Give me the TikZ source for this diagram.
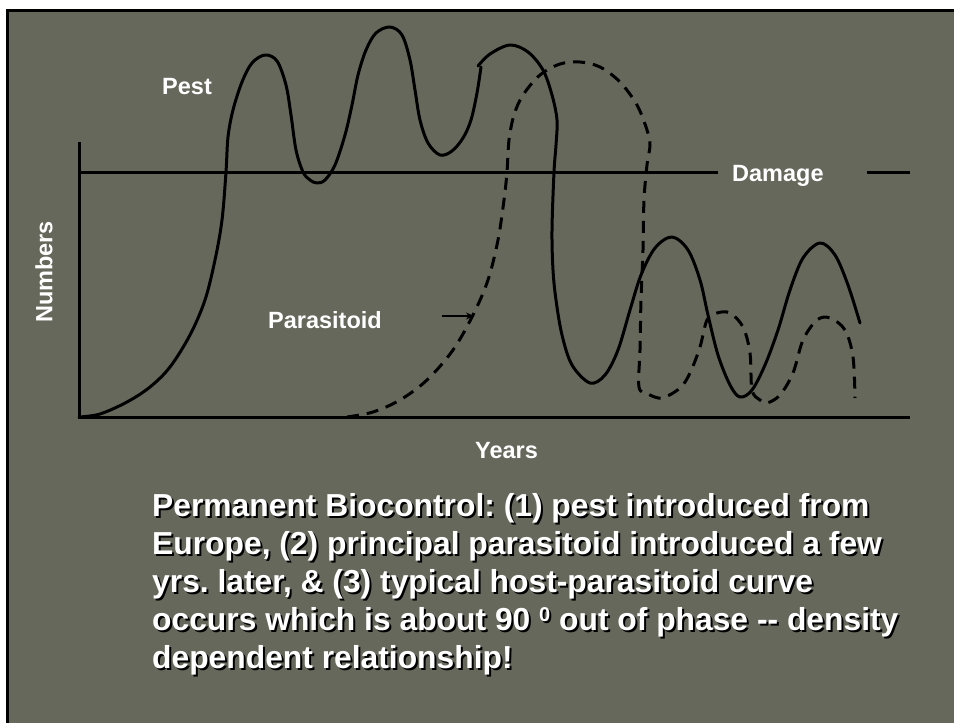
\documentclass[tikz,border=0pt]{standalone}
\usepackage{fontspec}
\setmainfont{Liberation Sans}
\usetikzlibrary{arrows.meta}
\definecolor{slidebg}{RGB}{103,104,92}
\frenchspacing
\tikzset{
  curve/.style={line width=3pt, line cap=round, line join=round},
  dashcurve/.style={line width=3pt, dash pattern=on 12pt off 8pt},
  axis/.style={line width=3pt},
  lbl/.style={text=white, font=\fontsize{23.5}{28}\selectfont\bfseries, inner sep=0pt, anchor=base west},
  para/.style={font=\fontsize{31.8}{38}\selectfont\bfseries, inner sep=0pt, anchor=base west, text=white},
}
\newcommand{\shadowtext}[1]{%
  \makebox[0pt][l]{\hspace{2pt}\raisebox{-2pt}{\color{black}#1}}#1}
\begin{document}
\begin{tikzpicture}[x=1pt,y=-1pt]
\useasboundingbox (0,0) rectangle (954,723);
\fill[white] (0,0) rectangle (954,723);
\fill[black] (6,9) rectangle (954,723);
\fill[slidebg] (9,12) rectangle (954,723);

% axes
\coordinate (yt) at (79,142);
\coordinate (o) at (79,417);
\coordinate (xe) at (910,417);
\draw[axis] (yt) -- (o) -- (xe);
% damage line
\coordinate (d0) at (79,172);
\coordinate (d1) at (718,172);
\coordinate (d2) at (867,172);
\coordinate (d3) at (910,172);
\draw[axis] (d0) -- (d1);
\draw[axis] (d2) -- (d3);

% pest curve
\draw[curve] plot[smooth, tension=0.55] coordinates {
(79,417) (100,414) (127,402) (150,387) (170,367) (190,335) (205,300) (215,260)
(222,220) (226,172) (228,137) (233,110) (242,82) (252,63) (265,55) (277,61)
(286,85) (291,115) (296,150) (303,172) (310,180) (317,183) (325,180) (335,165)
(345,135) (352,105) (358,75) (366,50) (376,33) (390,27) (402,35) (410,60)
(415,90) (420,120) (428,143) (440,155) (452,151) (463,138) (471,120) (477,93) (481,67)};
\draw[curve] plot[smooth, tension=0.55] coordinates {
(478,66) (490,54) (510,45) (528,52) (543,70) (552,95) (557,120) (556,145)
(554,172) (552,230) (553,270) (556,300) (562,335) (572,365) (590,383) (605,375)
(618,350) (630,310) (641,275) (655,248) (672,237) (688,250) (700,280) (708,315)
(718,355) (730,385) (740,397) (752,390) (765,365) (778,330) (790,290) (803,258)
(820,243) (835,255) (848,285) (860,323)};

% parasitoid curve
\draw[dashcurve] plot[smooth, tension=0.55] coordinates {
(347,417) (373,412) (400,400) (427,380) (453,350) (473,315) (488,280) (498,240)
(504,200) (507,172) (509,140) (514,115) (523,95) (540,75) (560,64) (580,62)
(600,67) (620,82) (637,105) (647,130) (650,145) (647,165) (644,200) (643,250)
(641,300) (640,350) (639,387) (648,394) (662,398) (680,388) (690,373) (700,347)
(707,320) (717,313) (730,313) (743,327) (750,353) (752,390) (760,400) (767,403)
(780,395) (793,373) (803,340) (817,320) (830,318) (845,330) (853,357) (855,398)};

% arrow
\coordinate (arS) at (442,316);
\coordinate (arE) at (474,316);
\draw[line width=2pt, -{Stealth[length=8pt,width=7pt]}] (arS) -- (arE);

% labels
\node[lbl] (pest) at (162,94) {Pest};
\node[lbl] (dmg) at (732,181) {Damage};
\node[lbl] (par) at (268,328) {Parasitoid};
\node[lbl] (yrs) at (475,458) {Years};
\node[lbl, rotate=90, anchor=center] (num) at (44,272) {Numbers};

% paragraph
\node[para] (l1) at (152,516) {\shadowtext{Permanent Biocontrol: (1) pest introduced from}};
\node[para] (l2) at (152,554) {\shadowtext{Europe, (2) principal parasitoid introduced a few}};
\node[para] (l3) at (152,592) {\shadowtext{yrs. later, \& (3) typical host-parasitoid curve}};
\node[para] (l4) at (152,630) {\shadowtext{occurs which is about 90 {\fontsize{20}{20}\selectfont\raisebox{9pt}{0}} out of phase -{}- density}};
\node[para] (l5) at (152,668) {\shadowtext{dependent relationship!}};
\end{tikzpicture}
\end{document}
